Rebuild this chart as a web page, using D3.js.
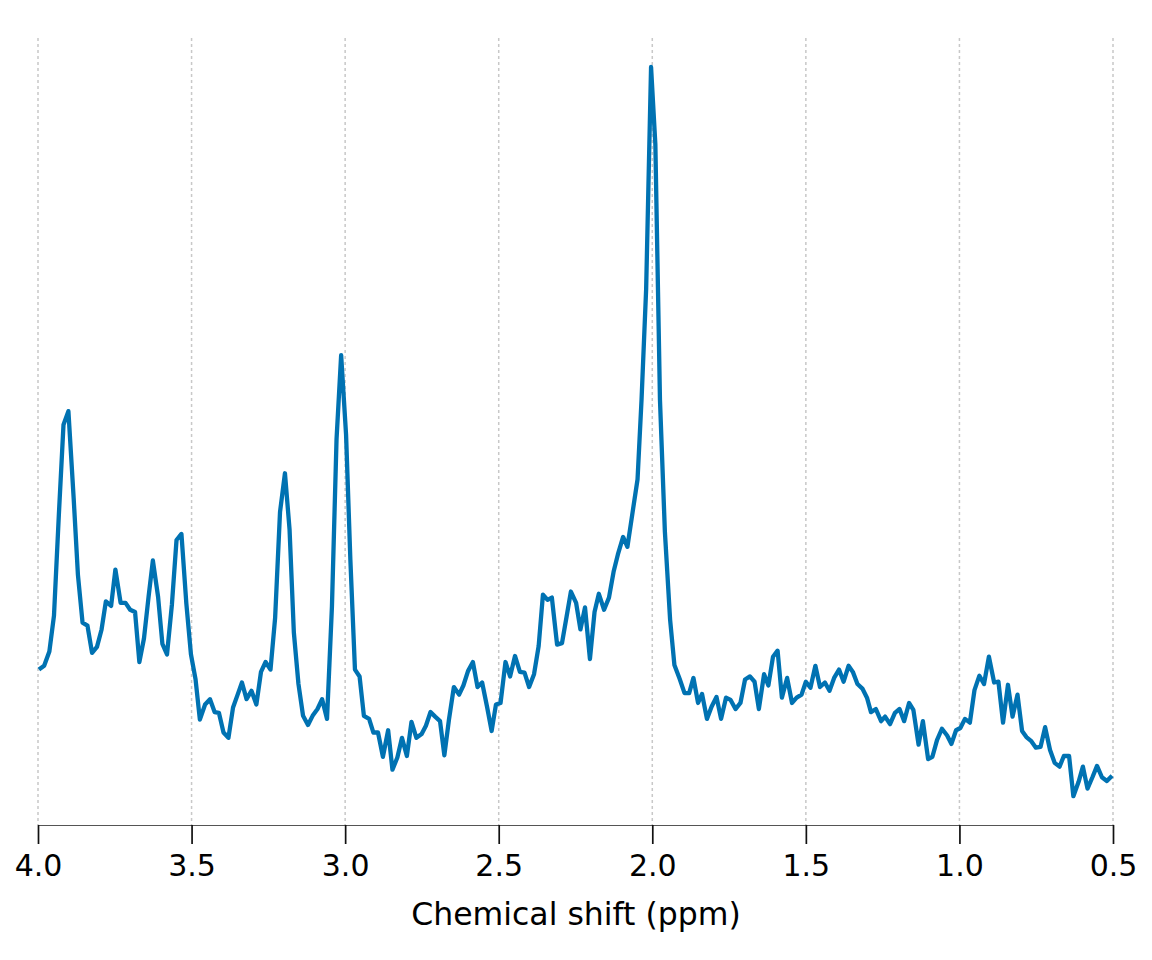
<!DOCTYPE html>
<html>
<head>
<meta charset="utf-8">
<script src="https://cdn.jsdelivr.net/npm/d3@7"></script>
<style>
  html, body { margin: 0; padding: 0; background: #fff; }
  svg { display: block; }
  text { font-family: "DejaVu Sans", sans-serif; }
</style>
</head>
<body>
<svg id="chart" width="1152" height="960"></svg>
<script>
// Chemical shift (ppm)
const ppm = [
3.997,3.980,3.963,3.948,3.932,3.917,3.901,3.884,3.870,3.855,
3.839,3.824,3.808,3.793,3.779,3.762,3.748,3.731,3.715,3.700,
3.684,3.670,3.655,3.640,3.626,3.609,3.595,3.580,3.564,3.549,
3.533,3.517,3.502,3.487,3.473,3.456,3.440,3.425,3.411,3.396,
3.380,3.365,3.350,3.336,3.321,3.305,3.289,3.274,3.259,3.243,
3.228,3.212,3.196,3.181,3.167,3.152,3.137,3.121,3.106,3.090,
3.075,3.059,3.043,3.028,3.013,2.997,2.983,2.968,2.953,2.939,
2.922,2.908,2.893,2.877,2.860,2.846,2.830,2.815,2.799,2.784,
2.768,2.751,2.737,2.722,2.707,2.691,2.677,2.662,2.646,2.629,
2.615,2.600,2.584,2.569,2.554,2.538,2.523,2.509,2.494,2.478,
2.463,2.447,2.431,2.416,2.401,2.385,2.370,2.356,2.341,2.327,
2.310,2.294,2.279,2.265,2.248,2.234,2.219,2.203,2.188,2.174,
2.157,2.141,2.126,2.112,2.095,2.081,2.064,2.048,2.035,2.020,
2.004,1.990,1.975,1.959,1.942,1.928,1.911,1.895,1.880,1.866,
1.851,1.838,1.822,1.807,1.791,1.776,1.760,1.745,1.729,1.713,
1.698,1.682,1.667,1.653,1.636,1.622,1.607,1.592,1.578,1.561,
1.545,1.530,1.514,1.500,1.485,1.469,1.454,1.438,1.423,1.408,
1.392,1.377,1.361,1.347,1.332,1.316,1.301,1.288,1.272,1.255,
1.242,1.226,1.210,1.195,1.180,1.164,1.150,1.133,1.119,1.102,
1.088,1.073,1.057,1.040,1.026,1.011,0.997,0.982,0.966,0.951,
0.935,0.920,0.904,0.887,0.873,0.858,0.842,0.827,0.811,0.796,
0.782,0.767,0.751,0.736,0.721,0.705,0.690,0.674,0.660,0.643,
0.629,0.612,0.598,0.583,0.567,0.552,0.536,0.520,0.503
];

// Relative intensity (% of the tallest peak)
const intensity = [
20.5,21.0,22.9,27.6,41.0,52.8,54.6,43.2,33.0,26.7,
26.3,22.7,23.5,25.8,29.5,28.9,33.7,29.3,29.3,28.4,
28.1,21.5,24.6,30.1,34.9,30.1,23.9,22.5,29.1,37.6,
38.4,29.2,22.5,19.2,13.9,15.9,16.6,14.9,14.8,12.2,
11.5,15.5,17.2,18.8,16.6,17.7,15.9,20.2,21.5,20.5,
27.3,41.3,46.4,39.0,25.4,18.6,14.4,13.2,14.4,15.3,
16.6,14.0,28.8,50.9,62.0,51.5,35.0,20.5,19.6,14.4,
14.0,12.2,12.2,9.0,12.5,7.3,8.9,11.5,9.1,13.6,
11.5,12.0,13.1,14.9,14.3,13.7,9.2,13.9,18.2,17.2,
18.4,20.3,21.5,18.2,18.8,15.6,12.4,15.9,16.1,21.5,
19.6,22.3,20.2,20.1,18.2,19.9,23.6,30.4,29.7,30.0,
23.8,24.0,27.5,30.8,29.3,25.8,28.7,21.9,28.1,30.5,
28.4,30.0,33.4,35.7,38.0,36.7,41.3,45.6,56.1,70.7,
100.0,89.8,56.1,38.7,27.1,21.1,19.3,17.4,17.4,19.4,
16.1,17.3,14.0,15.6,16.9,14.0,16.8,16.5,15.3,16.1,
19.2,19.6,18.9,15.3,19.9,18.4,22.2,23.0,16.8,19.4,
16.1,16.8,17.2,18.9,18.1,21.0,18.2,18.8,17.7,19.4,
20.5,18.9,21.0,20.2,18.6,18.0,16.8,14.9,15.3,13.7,
14.3,13.3,14.8,15.3,13.7,16.1,15.2,10.6,13.7,8.7,
9.0,11.2,12.7,11.8,10.7,12.5,12.8,14.0,13.5,17.8,
19.7,18.6,22.2,18.8,18.9,13.5,18.5,14.3,17.2,12.4,
11.6,11.1,10.2,10.3,12.9,9.9,8.2,7.7,9.1,9.1,
3.8,5.7,7.7,4.8,6.3,7.8,6.3,5.8,6.5
];

const xTicks = [4.0, 3.5, 3.0, 2.5, 2.0, 1.5, 1.0, 0.5];
const xTitle = "Chemical shift (ppm)";

const svg = d3.select("#chart");

const x = d3.scaleLinear().domain([4.0, 0.5]).range([38, 1113]);
const y = d3.scaleLinear().domain([0, 100]).range([825, 67]);

const data = ppm.map((p, i) => ({ p, v: intensity[i] }));

// vertical dotted grid lines
svg.append("g")
  .selectAll("line")
  .data(xTicks)
  .join("line")
  .attr("x1", d => x(d)).attr("x2", d => x(d))
  .attr("y1", 38).attr("y2", 825)
  .attr("stroke", "#c8c8c8")
  .attr("stroke-width", 1.5)
  .attr("stroke-dasharray", "3,3");

// spectrum line
const line = d3.line().x(d => x(d.p)).y(d => y(d.v));
svg.append("path")
  .datum(data)
  .attr("d", line)
  .attr("fill", "none")
  .attr("stroke", "#0072B2")
  .attr("stroke-width", 4.3)
  .attr("stroke-linejoin", "round");

// x axis
const axis = d3.axisBottom(x)
  .tickValues(xTicks)
  .tickFormat(d3.format(".1f"))
  .tickSize(19)
  .tickSizeOuter(0);

const gx = svg.append("g")
  .attr("transform", "translate(0,825)")
  .call(axis);

gx.select(".domain").attr("stroke", "#555").attr("stroke-width", 1.2);
gx.selectAll(".tick line").attr("stroke", "#111").attr("stroke-width", 1.7);
gx.selectAll(".tick text")
  .attr("fill", "#000")
  .attr("y", 51)
  .attr("dy", 0)
  .style("font-size", "30px")
  .style("font-family", "DejaVu Sans, sans-serif");

svg.append("text")
  .attr("x", 576)
  .attr("y", 925)
  .attr("text-anchor", "middle")
  .attr("fill", "#000")
  .style("font-size", "31.5px")
  .text(xTitle);
</script>
</body>
</html>
